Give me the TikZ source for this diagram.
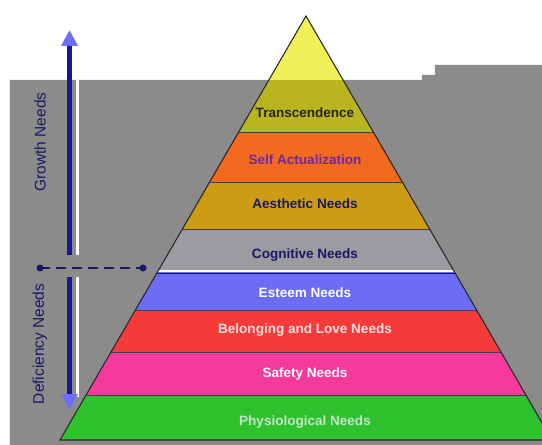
\documentclass[tikz,border=0pt]{standalone}
\usepackage{fontspec}
\setmainfont{Liberation Sans}
\usepackage{tikz}
\usetikzlibrary{arrows,arrows.meta,shapes,calc,positioning}
\definecolor{fondo}{RGB}{139,139,139}
\definecolor{amarillo}{RGB}{240,240,88}
\definecolor{oliva}{RGB}{184,181,32}
\definecolor{naranja}{RGB}{242,106,30}
\definecolor{dorado}{RGB}{206,156,20}
\definecolor{grisClaro}{RGB}{155,155,160}
\definecolor{azulClaro}{RGB}{108,108,245}
\definecolor{rojo}{RGB}{245,58,58}
\definecolor{rosa}{RGB}{245,58,155}
\definecolor{verde}{RGB}{46,194,46}
\definecolor{azulOscuro}{RGB}{22,22,150}
\definecolor{puntaAzul}{RGB}{110,110,250}
\definecolor{marino}{RGB}{24,24,100}
\definecolor{morado}{RGB}{112,40,160}
\definecolor{rosaPalido}{RGB}{255,225,225}
\definecolor{verdePalido}{RGB}{200,225,200}
\tikzstyle{level}=[font=\fontsize{7.7}{9}\selectfont\bfseries,
                   inner sep=1pt]
\tikzstyle{side} =[font=\fontsize{8.8}{10}\selectfont, rotate=90,
                   text=marino, inner sep=1pt]
\tikzstyle{flow} =[azulOscuro, line width=3pt,
                   -{Triangle[width=9pt,length=9pt,color=puntaAzul]}]
\tikzstyle{shade}=[white, line width=1.6pt]
\tikzstyle{split}=[marino, line width=1.7pt, dash pattern=on 5.7pt off 3.4pt]

\begin{document}
\begin{tikzpicture}
    \useasboundingbox (0,0) rectangle (10.84,-8.9);
    \clip (0,0) rectangle (10.84,-8.9);

        % grey backdrop
        \fill[fondo] (0.2,-1.6) -- (8.44,-1.6) -- (8.44,-1.5) -- (8.7,-1.5)
            -- (8.7,-1.3) -- (10.84,-1.3) -- (10.84,-8.9) -- (0.2,-8.9) -- cycle;

        % pyramid
        \coordinate (cima) at (6.12,-0.32);
        \coordinate (izq) at (1.2,-8.8);
        \coordinate (der) at (11.04,-8.8);

        \begin{scope}[]
            \clip (cima) -- (izq) -- (der) -- cycle;
            \foreach \a/\b/\c in {-0.32/-2.64/oliva,-2.64/-3.64/naranja,-3.64/-4.58/dorado,
                                  -4.58/-5.44/grisClaro,-5.44/-6.2/azulClaro,-6.2/-7.04/rojo,
                                  -7.04/-7.9/rosa,-7.9/-8.8/verde}
                \fill[\c] (0,\a) rectangle (11.2,\b);
            \fill[amarillo] (0,-0.32) rectangle (11.2,-1.6);
            \foreach \y in {-2.64,-3.64,-4.58,-6.2,-7.04,-7.9}
                \draw[black!75, line width=0.5pt] (0,\y) -- (11.2,\y);
            \draw[white, line width=1.3pt] (0,-5.42) -- (11.2,-5.42);
            \draw[marino, line width=0.6pt] (0,-5.47) -- (11.2,-5.47);
        \end{scope}
        \draw[black!85, line width=0.6pt] (cima) -- (izq) -- (der) -- cycle;

        \draw (6.1,-2.26) node (trans) [level,text=black!85] {Transcendence};
        \draw (6.1,-3.2) node (self) [level,text=morado] {Self Actualization};
        \draw (6.1,-4.08) node (aest) [level,text=marino] {Aesthetic Needs};
        \draw (6.1,-5.1) node (cogn) [level,text=marino] {Cognitive Needs};
        \draw (6.1,-5.86) node (este) [level,text=white] {Esteem Needs};
        \draw (6.1,-6.6) node (amor) [level,text=rosaPalido] {Belonging and Love Needs};
        \draw (6.1,-7.48) node (segu) [level,text=white] {Safety Needs};
        \draw (6.1,-8.44) node (fisi) [level,text=verdePalido] {Physiological Needs};

        % growth / deficiency arrows
        \coordinate (g0) at (1.39,-5.1);
        \coordinate (g1) at (1.39,-0.6);
        \coordinate (d0) at (1.39,-5.54);
        \coordinate (d1) at (1.39,-8.2);
        \draw[shade] ([xshift=4.4pt]g0) -- ([xshift=4.4pt]g1 |- 0,-1.6);
        \draw[shade] ([xshift=4.4pt]d0) -- ([xshift=4.4pt]d1 |- 0,-7.95);
        \draw[flow] (g0) to (g1);
        \draw[flow] (d0) to (d1);

        \coordinate (c0) at (0.8,-5.36);
        \coordinate (c1) at (2.86,-5.36);
        \draw[split] (c0) to (c1);
        \foreach \i in {c0,c1}
            \fill[marino] (\i) circle (0.07);

        \draw (0.8,-2.84) node (crec) [side] {Growth Needs};
        \draw (0.8,-6.88) node (defi) [side] {Deficiency Needs};

\end{tikzpicture}
\end{document}
